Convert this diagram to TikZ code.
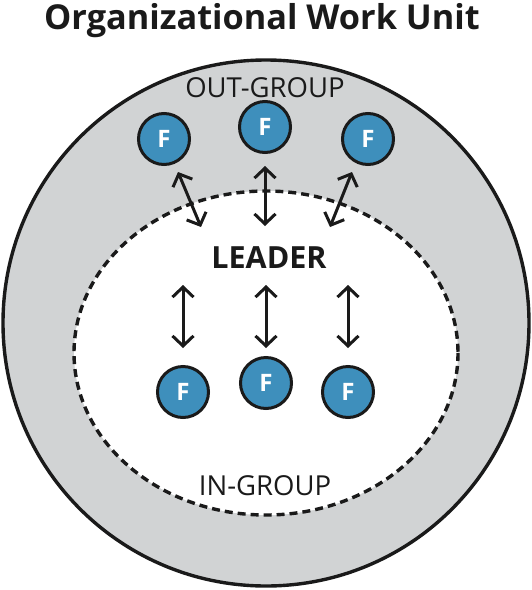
\documentclass[tikz,border=0pt]{standalone}
\usepackage{fontspec}
\setmainfont{Open Sans}
\usetikzlibrary{arrows.meta}
\definecolor{ringgray}{HTML}{D1D3D4}
\definecolor{fblue}{HTML}{3E8FBC}
\definecolor{inkblack}{HTML}{1A1A1A}
\begin{document}
\begin{tikzpicture}[x=1pt,y=-1pt,
  fnode/.style={circle,draw=inkblack,line width=3pt,fill=fblue,minimum size=51pt,inner sep=0pt,text=white,font=\fontsize{24}{24}\selectfont\bfseries},
  link/.style={draw=inkblack,line width=3pt,{Straight Barb[length=10pt,width=21pt,line width=3pt]}-{Straight Barb[length=10pt,width=21pt,line width=3pt]}},
  grouplabel/.style={anchor=base,text=inkblack,inner sep=0pt,font=\fontsize{27.5}{27.5}\selectfont},
  titletext/.style={anchor=base,text=inkblack,inner sep=0pt,font=\fontsize{34.3}{34.3}\selectfont\bfseries},
  leadertext/.style={anchor=base,text=inkblack,inner sep=0pt,font=\fontsize{30.5}{30.5}\selectfont\bfseries}
]
\useasboundingbox (0,0) rectangle (532,590);
% outer work unit
\path[fill=ringgray,draw=inkblack,line width=3.4pt] (266,323) circle[radius=263];
% in-group
\path[fill=white,draw=inkblack,line width=3.4pt,dash pattern=on 8pt off 5pt] (266,353) ellipse[x radius=192,y radius=162];
% texts
\node[titletext] (title) at (262,29) {Organizational Work Unit};
\node[grouplabel] (out) at (265,97) {OUT-GROUP};
\node[grouplabel] (in) at (265,495) {IN-GROUP};
\node[leadertext] (leader) at (269,268) {LEADER};
% followers
\node[fnode] (f1) at (164,139) {F};
\node[fnode] (f2) at (265,127) {F};
\node[fnode] (f3) at (368,139) {F};
\node[fnode] (f4) at (183,392) {F};
\node[fnode] (f5) at (266,383) {F};
\node[fnode] (f6) at (348,392) {F};
% arrow end points
\coordinate (a1s) at (178,172); \coordinate (a1e) at (201,227);
\coordinate (a2s) at (265,166); \coordinate (a2e) at (265,226);
\coordinate (a3s) at (352,172); \coordinate (a3e) at (330,227);
\coordinate (b1s) at (183,285); \coordinate (b1e) at (183,348);
\coordinate (b2s) at (266,285); \coordinate (b2e) at (266,348);
\coordinate (b3s) at (348,285); \coordinate (b3e) at (348,348);
\draw[link] (a1s) -- (a1e);
\draw[link] (a2s) -- (a2e);
\draw[link] (a3s) -- (a3e);
\draw[link] (b1s) -- (b1e);
\draw[link] (b2s) -- (b2e);
\draw[link] (b3s) -- (b3e);
\end{tikzpicture}
\end{document}
